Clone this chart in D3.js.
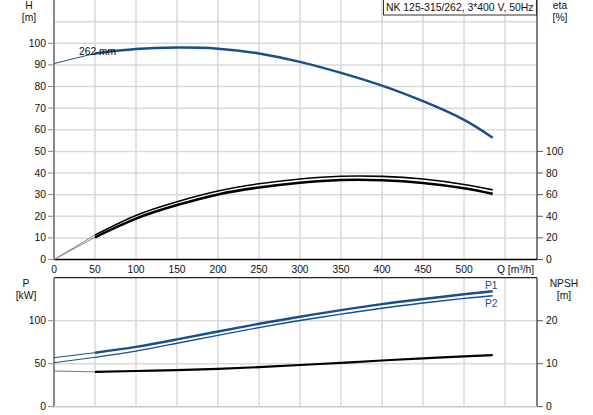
<!DOCTYPE html>
<html><head><meta charset="utf-8">
<script src="https://cdn.jsdelivr.net/npm/d3@7"></script>
<style>
html,body{margin:0;padding:0;background:#fff;}
svg{display:block;font-family:"Liberation Sans",Arial,sans-serif;}
</style></head>
<body>
<svg id="c" width="593" height="415"></svg>
<script>
const title = "NK 125-315/262, 3*400 V, 50Hz";
const impellerLabel = "262 mm";
const flow = [0, 50, 100, 150, 200, 250, 300, 350, 400, 450, 500, 535];
const head = [90.6, 95.3, 97.3, 98.0, 97.5, 95.3, 91.4, 86.3, 80.4, 73.2, 64.6, 56.3];
const etaUpper = [0, 22.7, 40.8, 53.5, 63.4, 70.0, 74.5, 77.0, 76.9, 74.4, 69.4, 64.4];
const etaLower = [0, 20.5, 37.8, 50.3, 60.2, 66.6, 71.0, 73.5, 73.3, 70.8, 65.9, 60.7];
const powerP1 = [57.0, 62.8, 69.5, 78.3, 87.5, 96.4, 104.6, 112.3, 119.3, 125.2, 130.7, 134.3];
const powerP2 = [51.2, 57.4, 64.6, 73.8, 83.0, 92.0, 100.2, 107.6, 114.5, 120.5, 125.9, 129.0];
const npsh = [8.3, 8.1, 8.3, 8.5, 8.8, 9.2, 9.7, 10.2, 10.75, 11.25, 11.7, 12.0];
const xTicks = [0, 50, 100, 150, 200, 250, 300, 350, 400, 450, 500];
const xGrid = [50, 100, 150, 200, 250, 300, 350, 400, 450, 500, 550];
const hTicks = [0, 10, 20, 30, 40, 50, 60, 70, 80, 90, 100];
const hGrid = [10, 20, 30, 40, 50, 60, 70, 80, 90, 100, 110];
const etaTicks = [0, 20, 40, 60, 80, 100];
const pTicks = [0, 50, 100];
const pGrid = [50, 100];
const npshTicks = [0, 10, 20];

const svg = d3.select("#c");
const L = 54, R = 537;
const x = d3.scaleLinear().domain([0, 589]).range([L, R]);
const yH = d3.scaleLinear().domain([0, 120]).range([259.5, 0]);
const yEta = d3.scaleLinear().domain([0, 240]).range([259.5, 0]);
const yP = d3.scaleLinear().domain([0, 150]).range([406.7, 277.7]);
const yN = d3.scaleLinear().domain([0, 30]).range([406.7, 277.7]);

const grid = "#d9d9d9";
const blue = "#174f8a";
const fs = "10.3px";

// grids
const g = svg.append("g");
g.selectAll(".vg1").data(xGrid).join("line")
  .attr("x1", d => x(d)).attr("x2", d => x(d)).attr("y1", 0).attr("y2", yH(0))
  .attr("stroke", grid).attr("stroke-width", 1.5);
g.selectAll(".hg1").data(hGrid).join("line")
  .attr("x1", L).attr("x2", R).attr("y1", d => yH(d)).attr("y2", d => yH(d))
  .attr("stroke", grid).attr("stroke-width", 1.5);
g.selectAll(".vg2").data(xGrid).join("line")
  .attr("x1", d => x(d)).attr("x2", d => x(d)).attr("y1", yP(150)).attr("y2", yP(0))
  .attr("stroke", grid).attr("stroke-width", 1.5);
g.selectAll(".hg2").data(pGrid).join("line")
  .attr("x1", L).attr("x2", R).attr("y1", d => yP(d)).attr("y2", d => yP(d))
  .attr("stroke", grid).attr("stroke-width", 1.5);

// axes lines
function axLine(x1, y1, x2, y2, col, w) {
  svg.append("line").attr("x1", x1).attr("y1", y1).attr("x2", x2).attr("y2", y2)
    .attr("stroke", col).attr("stroke-width", w);
}
axLine(L, 0, L, yH(0), "#8a8a8a", 2);
axLine(R, 0, R, yH(0), "#555", 1.5);
axLine(L, yH(0), R, yH(0), "#000", 1.5);
axLine(L, yP(150), R, yP(150), "#222", 1.2);
axLine(L, yP(150), L, yP(0), "#8a8a8a", 2);
axLine(R, yP(150), R, yP(0), "#555", 1.5);
axLine(L, yP(0), R, yP(0), "#c8c8c8", 1.5);

// ticks
function leftTicks(vals, sc) {
  svg.append("g").selectAll("line").data(vals).join("line")
    .attr("x1", L - 6).attr("x2", L).attr("y1", d => sc(d)).attr("y2", d => sc(d))
    .attr("stroke", "#8a8a8a").attr("stroke-width", 1);
  svg.append("g").selectAll("text").data(vals).join("text")
    .attr("x", L - 8).attr("y", d => sc(d)).attr("dy", "0.35em")
    .attr("text-anchor", "end").attr("font-size", fs).attr("fill", "#111").text(d => d);
}
function rightTicks(vals, sc) {
  svg.append("g").selectAll("line").data(vals).join("line")
    .attr("x1", R).attr("x2", R + 6).attr("y1", d => sc(d)).attr("y2", d => sc(d))
    .attr("stroke", "#555").attr("stroke-width", 1);
  svg.append("g").selectAll("text").data(vals).join("text")
    .attr("x", R + 9).attr("y", d => sc(d)).attr("dy", "0.35em")
    .attr("text-anchor", "start").attr("font-size", fs).attr("fill", "#111").text(d => d);
}
leftTicks(hTicks, yH);
rightTicks(etaTicks, yEta);
leftTicks(pTicks, yP);
rightTicks(npshTicks, yN);

svg.append("g").selectAll("text").data(xTicks).join("text")
  .attr("x", d => x(d)).attr("y", 269).attr("dy", "0.35em")
  .attr("text-anchor", "middle").attr("font-size", fs).attr("fill", "#111").text(d => d);
svg.append("text").attr("x", 497).attr("y", 269).attr("dy", "0.35em")
  .attr("font-size", fs).attr("fill", "#111").text("Q [m³/h]");

// axis titles
function label(t, xx, yy) {
  svg.append("text").attr("x", xx).attr("y", yy).attr("dy", "0.35em")
    .attr("text-anchor", "middle").attr("font-size", fs).attr("fill", "#111").text(t);
}
label("H", 29, 5); label("[m]", 29, 17);
label("eta", 560, 5); label("[%]", 560, 17);
label("P", 26, 283); label("[kW]", 26, 295);
label("NPSH", 564, 283); label("[m]", 564, 295);

// curves
const line = (sc, ys) => d3.line().x(d => x(flow[d])).y(d => sc(ys[d])).curve(d3.curveNatural);
const idxHead = [0, 1];
const idxMain = d3.range(1, flow.length);
function drawCurve(sc, ys, col, w, thinCol, thinW) {
  svg.append("path").attr("d", line(sc, ys)(idxHead)).attr("fill", "none")
    .attr("stroke", thinCol).attr("stroke-width", thinW);
  svg.append("path").attr("d", line(sc, ys)(idxMain)).attr("fill", "none")
    .attr("stroke", col).attr("stroke-width", w).attr("stroke-linecap", "butt");
}
drawCurve(yH, head, blue, 2.5, blue, 1);
drawCurve(yEta, etaUpper, "#000", 1.6, "#888", 1);
drawCurve(yEta, etaLower, "#000", 2.6, "#888", 1);
drawCurve(yP, powerP1, blue, 2.4, blue, 1);
drawCurve(yP, powerP2, blue, 1.4, blue, 1);
drawCurve(yN, npsh, "#000", 2.2, "#777", 1);

// curve labels
svg.append("text").attr("x", 79).attr("y", 51).attr("dy", "0.35em")
  .attr("font-size", fs).attr("fill", "#111").text(impellerLabel);
svg.append("text").attr("x", 485).attr("y", 285).attr("dy", "0.35em")
  .attr("font-size", fs).attr("fill", blue).text("P1");
svg.append("text").attr("x", 485).attr("y", 303).attr("dy", "0.35em")
  .attr("font-size", fs).attr("fill", blue).text("P2");

// title box
svg.append("rect").attr("x", 383.5).attr("y", -1).attr("width", 153).attr("height", 16)
  .attr("fill", "#fff").attr("stroke", "#333").attr("stroke-width", 1);
svg.append("text").attr("x", 386).attr("y", 7).attr("dy", "0.35em")
  .attr("font-size", "10.4px").attr("fill", "#111").text(title);
</script>
</body></html>
